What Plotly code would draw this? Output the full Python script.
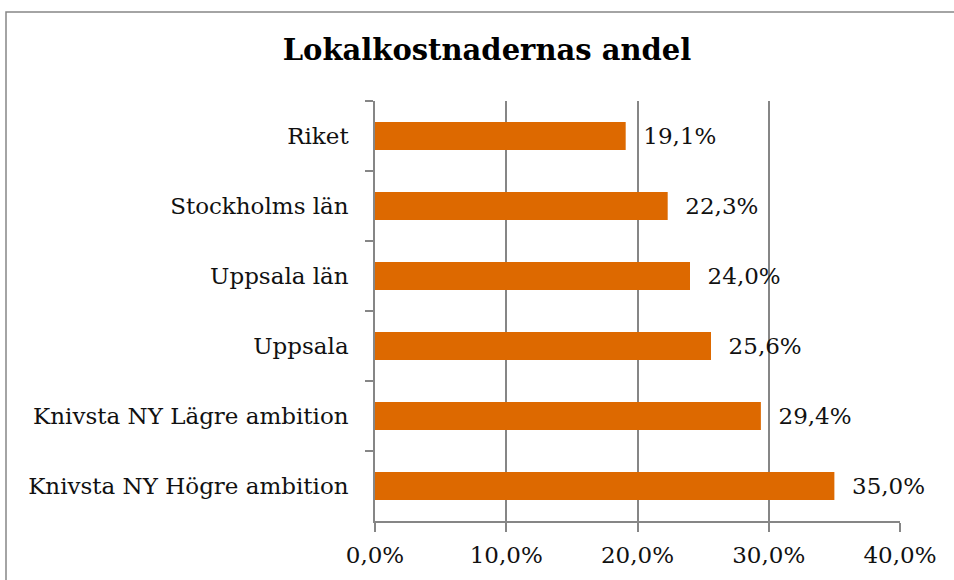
import plotly.graph_objects as go

categories = ["Riket", "Stockholms län", "Uppsala län", "Uppsala",
              "Knivsta NY Lägre ambition", "Knivsta NY Högre ambition"]
values = [19.1, 22.3, 24.0, 25.6, 29.4, 35.0]
x_ticks = [0, 10, 20, 30, 40]
x_tick_labels = ["0,0%", "10,0%", "20,0%", "30,0%", "40,0%"]
title = "Lokalkostnadernas andel"

W, H = 954, 580
L, R, T, B = 375, 54, 101, 59
pw, ph = W - L - R, H - T - B

def px_x(px):
    return (px - L) / pw

def px_y(py):
    return (H - B - py) / ph

font = "DejaVu Serif"
grey = "#868686"

fig = go.Figure(go.Bar(
    x=values, y=categories, orientation="h",
    marker=dict(color="#DD6900", line=dict(width=0)),
    texttemplate="\u00a0\u00a0%{x:.1f}%", textposition="outside",
    textfont=dict(family=font, size=23, color="#111111"),
    cliponaxis=False, width=0.4,
))

fig.update_layout(
    width=W, height=H,
    margin=dict(l=L, r=R, t=T, b=B),
    paper_bgcolor="white", plot_bgcolor="white",
    separators=", ",
    showlegend=False,
    title=dict(text="<b>" + title + "</b>", x=px_x(487), xref="paper",
               xanchor="center", y=1 - 50 / H, yanchor="middle",
               font=dict(family=font, size=29, color="#000000")),
    xaxis=dict(range=[0, 40], tickvals=x_ticks, ticktext=x_tick_labels,
               showgrid=True, gridcolor=grey, gridwidth=1.5,
               showline=True, linecolor=grey, linewidth=1.5,
               ticks="outside", ticklen=9, tickcolor=grey, tickwidth=1.5,
               tickfont=dict(family=font, size=23, color="#111111"),
               ticklabelstandoff=4,
               zeroline=False, fixedrange=True),
    yaxis=dict(autorange="reversed", showgrid=False,
               showline=True, linecolor=grey, linewidth=1.5,
               ticks="outside", ticklen=8, tickcolor=grey, tickwidth=1.5,
               tickson="boundaries",
               tickfont=dict(family=font, size=23, color="#111111"),
               ticklabelstandoff=20, zeroline=False, fixedrange=True),
    shapes=[dict(type="rect", xref="paper", yref="paper",
                 x0=px_x(6), x1=px_x(962), y0=px_y(590), y1=px_y(12),
                 line=dict(color=grey, width=1.5), fillcolor="rgba(0,0,0,0)",
                 layer="below")],
)

fig.write_html("out.html", config={"displayModeBar": False},
               post_script="document.body.style.margin='0';")
